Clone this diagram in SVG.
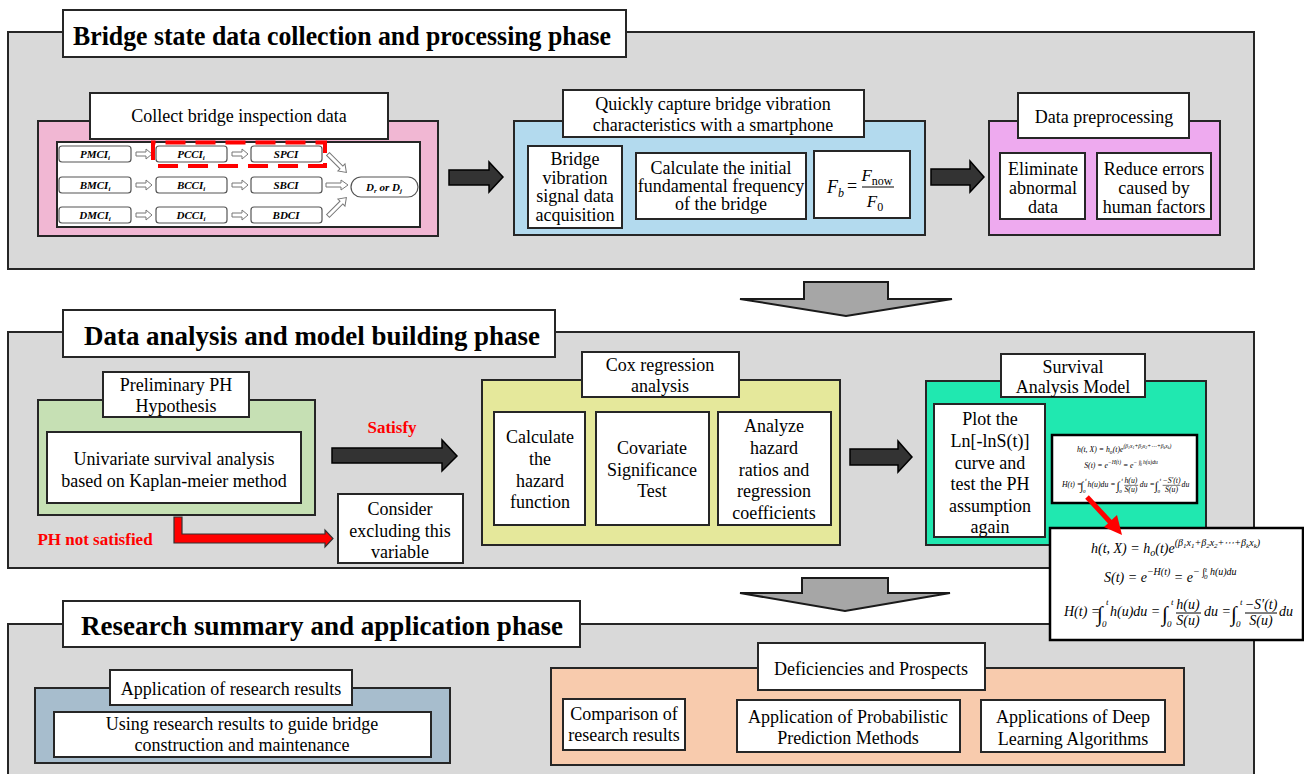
<svg xmlns="http://www.w3.org/2000/svg" xmlns:xlink="http://www.w3.org/1999/xlink" width="1304" height="774" viewBox="0 0 1304 774">
<style>
text{font-family:"Liberation Serif","Times New Roman",serif;fill:#000}
.t{font-size:18px;text-anchor:middle}
.h{font-size:27px;font-weight:bold;text-anchor:middle}
.red{font-size:17px;font-weight:bold;fill:#ff0000;text-anchor:middle}
.panel{fill:#d9d9d9;stroke:#262626;stroke-width:2}
.w{fill:#fff;stroke:#262626;stroke-width:2}
.wb{fill:#fff;stroke:#000;stroke-width:2.5}
.sb{fill:#fff;stroke:#555;stroke-width:1.2}
.ci{font-size:11px;font-weight:bold;font-style:italic;text-anchor:middle}
.ha{fill:#fff;stroke:#777;stroke-width:1}
.dark{fill:#333;stroke:#000;stroke-width:1.5}
.garrow{fill:#a6a6a6;stroke:#1a1a1a;stroke-width:2}
.f{font-size:14px;font-style:italic}
.ig{font-size:21px;font-style:italic}
.lim{font-size:9px;font-style:italic}
</style>
<defs>
<g id="formula">
<text class="f" x="1091" y="553">h(t, X) = h<tspan font-size="10" dy="3">o</tspan><tspan dy="-3">(t)e</tspan><tspan font-size="10" dy="-7">(β<tspan font-size="7" dy="2">1</tspan><tspan dy="-2">x</tspan><tspan font-size="7" dy="2">1</tspan><tspan dy="-2">+β</tspan><tspan font-size="7" dy="2">2</tspan><tspan dy="-2">x</tspan><tspan font-size="7" dy="2">2</tspan><tspan dy="-2">+⋯+β</tspan><tspan font-size="7" dy="2">k</tspan><tspan dy="-2">x</tspan><tspan font-size="7" dy="2">k</tspan><tspan dy="-2">)</tspan></tspan></text>
<text class="f" x="1104" y="582">S(t) = e<tspan font-size="10" dy="-7">−H(t)</tspan><tspan dy="7"> = e</tspan><tspan font-size="10" dy="-7">− ∫</tspan><tspan font-size="7" dy="-3">t</tspan><tspan font-size="7" dx="-3" dy="7">0</tspan><tspan font-size="10" dy="-4"> h(u)du</tspan></text>
<text class="f" x="1064" y="616">H(t) =</text>
<text class="ig" x="1097" y="621">∫</text>
<text class="lim" x="1106" y="605">t</text>
<text class="lim" x="1102" y="627">0</text>
<text class="f" x="1110" y="616">h(u)du =</text>
<text class="ig" x="1162" y="621">∫</text>
<text class="lim" x="1171" y="605">t</text>
<text class="lim" x="1167" y="627">0</text>
<text class="f" x="1188" y="609" text-anchor="middle">h(u)</text>
<line x1="1176" y1="613" x2="1201" y2="613" stroke="#000" stroke-width="1"/>
<text class="f" x="1188" y="625" text-anchor="middle">S(u)</text>
<text class="f" x="1204" y="616">du =</text>
<text class="ig" x="1231" y="621">∫</text>
<text class="lim" x="1240" y="605">t</text>
<text class="lim" x="1236" y="627">0</text>
<text class="f" x="1261" y="609" text-anchor="middle">−S′(t)</text>
<line x1="1245" y1="613" x2="1277" y2="613" stroke="#000" stroke-width="1"/>
<text class="f" x="1261" y="625" text-anchor="middle">S(u)</text>
<text class="f" x="1279" y="616">du</text>
</g>
</defs>

<!-- Phase 1 -->
<g id="phase1">
<rect class="panel" x="8" y="32" width="1246" height="237"/>
<rect class="w" x="63" y="10" width="563" height="47"/>
<text class="h" x="342" y="45" textLength="538" lengthAdjust="spacingAndGlyphs">Bridge state data collection and processing phase</text>
</g>
<g id="collect">
<rect x="38" y="121" width="400" height="115" fill="#f1b7d3" stroke="#262626" stroke-width="2"/>
<rect class="w" x="57" y="142" width="363" height="85" stroke-width="1.5"/>
<rect class="w" x="90" y="93" width="298" height="46"/>
<text class="t" x="239" y="122">Collect bridge inspection data</text>
<g id="inspection-grid">
<rect class="sb" x="59" y="146" width="72" height="16" rx="3"/>
<rect class="sb" x="156" y="146" width="71" height="16" rx="3"/>
<rect class="sb" x="251" y="146" width="71" height="16" rx="3"/>
<rect class="sb" x="59" y="177" width="72" height="16" rx="3"/>
<rect class="sb" x="156" y="177" width="71" height="16" rx="3"/>
<rect class="sb" x="251" y="177" width="71" height="16" rx="3"/>
<rect class="sb" x="59" y="207" width="72" height="16" rx="3"/>
<rect class="sb" x="156" y="207" width="71" height="16" rx="3"/>
<rect class="sb" x="251" y="207" width="71" height="16" rx="3"/>
<rect class="sb" x="351" y="177" width="67" height="20" rx="10"/>
<text class="ci" x="95" y="158">PMCI<tspan font-size="7" dy="2">i</tspan></text>
<text class="ci" x="191" y="158">PCCI<tspan font-size="7" dy="2">i</tspan></text>
<text class="ci" x="286" y="158">SPCI</text>
<text class="ci" x="95" y="189">BMCI<tspan font-size="7" dy="2">i</tspan></text>
<text class="ci" x="191" y="189">BCCI<tspan font-size="7" dy="2">i</tspan></text>
<text class="ci" x="286" y="189">SBCI</text>
<text class="ci" x="95" y="219">DMCI<tspan font-size="7" dy="2">i</tspan></text>
<text class="ci" x="191" y="219">DCCI<tspan font-size="7" dy="2">i</tspan></text>
<text class="ci" x="286" y="219">BDCI</text>
<text class="ci" x="384" y="191">D<tspan font-size="7" dy="2">r</tspan><tspan dy="-2"> or D</tspan><tspan font-size="7" dy="2">j</tspan></text>
<path class="ha" d="M136,152 H146 V149 L152,154 L146,159 V156 H136 Z"/>
<path class="ha" d="M232,152 H242 V149 L248,154 L242,159 V156 H232 Z"/>
<path class="ha" d="M136,183 H146 V180 L152,185 L146,190 V187 H136 Z"/>
<path class="ha" d="M232,183 H242 V180 L248,185 L242,190 V187 H232 Z"/>
<path class="ha" d="M136,213 H146 V210 L152,215 L146,220 V217 H136 Z"/>
<path class="ha" d="M232,213 H242 V210 L248,215 L242,220 V217 H232 Z"/>
<path class="ha" d="M326,183 H341 V180 L348,185 L341,190 V187 H326 Z"/>
<path class="ha" d="M0,-2 H19 V-5 L26,0 L19,5 V2 H0 Z" transform="translate(328,154) rotate(45)"/>
<path class="ha" d="M0,-2 H19 V-5 L26,0 L19,5 V2 H0 Z" transform="translate(328,216) rotate(-45)"/>
<path d="M153,160 V142.5 H325 V166 H157" fill="none" stroke="#ff0000" stroke-width="4" stroke-dasharray="20,10"/>
</g>
</g>
<g id="capture">
<rect x="514" y="121" width="411" height="114" fill="#b3daee" stroke="#262626" stroke-width="2"/>
<rect class="w" x="563" y="90" width="301" height="47"/>
<text class="t" x="713" y="110">Quickly capture bridge vibration</text>
<text class="t" x="713" y="131">characteristics with a smartphone</text>
<rect class="w" x="528" y="146" width="94" height="82"/>
<text class="t" x="575" y="165">Bridge</text>
<text class="t" x="575" y="184">vibration</text>
<text class="t" x="575" y="202">signal data</text>
<text class="t" x="575" y="221">acquisition</text>
<rect class="w" x="636" y="153" width="170" height="66"/>
<text class="t" x="721" y="174">Calculate the initial</text>
<text class="t" x="721" y="192">fundamental frequency</text>
<text class="t" x="721" y="210">of the bridge</text>
<rect class="w" x="814" y="151" width="96" height="67"/>
<text x="827" y="193" font-size="18" font-style="italic">F<tspan font-size="12" dy="4">b</tspan></text>
<text x="847" y="192" font-size="18">=</text>
<text x="877" y="181" font-size="17" text-anchor="middle"><tspan font-style="italic">F</tspan><tspan font-size="12" dy="4">now</tspan></text>
<line x1="862" y1="187" x2="894" y2="187" stroke="#000" stroke-width="1"/>
<text x="875" y="207" font-size="17" text-anchor="middle"><tspan font-style="italic">F</tspan><tspan font-size="12" dy="4">0</tspan></text>
</g>
<g id="preprocess">
<rect x="989" y="121" width="231" height="114" fill="#eeaaef" stroke="#262626" stroke-width="2"/>
<rect class="w" x="1018" y="93" width="171" height="45"/>
<text class="t" x="1104" y="123">Data preprocessing</text>
<rect class="w" x="1000" y="153" width="85" height="66"/>
<text class="t" x="1043" y="175">Eliminate</text>
<text class="t" x="1043" y="194">abnormal</text>
<text class="t" x="1043" y="213">data</text>
<rect class="w" x="1097" y="153" width="114" height="66"/>
<text class="t" x="1154" y="175">Reduce errors</text>
<text class="t" x="1154" y="194">caused by</text>
<text class="t" x="1154" y="213">human factors</text>
</g>

<!-- Phase 2 -->
<g id="phase2">
<rect class="panel" x="8" y="332" width="1246" height="236"/>
<rect class="w" x="63" y="310" width="492" height="47"/>
<text class="h" x="312" y="345" textLength="456" lengthAdjust="spacingAndGlyphs">Data analysis and model building phase</text>
</g>
<g id="ph-hypothesis">
<rect x="38" y="400" width="277" height="115" fill="#c6e0b4" stroke="#262626" stroke-width="2"/>
<rect class="w" x="103" y="372" width="146" height="45"/>
<text class="t" x="176" y="391">Preliminary PH</text>
<text class="t" x="176" y="412">Hypothesis</text>
<rect class="w" x="47" y="432" width="254" height="71"/>
<text class="t" x="174" y="465">Univariate survival analysis</text>
<text class="t" x="174" y="487">based on Kaplan-meier method</text>
</g>
<g id="exclude">
<rect class="w" x="338" y="494" width="125" height="69"/>
<text class="t" x="400" y="515">Consider</text>
<text class="t" x="400" y="537">excluding this</text>
<text class="t" x="400" y="558">variable</text>
</g>
<g id="cox">
<rect x="482" y="380" width="358" height="165" fill="#e5e89b" stroke="#262626" stroke-width="2"/>
<rect class="w" x="582" y="352" width="157" height="45"/>
<text class="t" x="660" y="371">Cox regression</text>
<text class="t" x="660" y="392">analysis</text>
<rect class="w" x="494" y="412" width="91" height="113"/>
<text class="t" x="540" y="443">Calculate</text>
<text class="t" x="540" y="465">the</text>
<text class="t" x="540" y="487">hazard</text>
<text class="t" x="540" y="508">function</text>
<rect class="w" x="596" y="412" width="113" height="113"/>
<text class="t" x="652" y="454">Covariate</text>
<text class="t" x="652" y="476">Significance</text>
<text class="t" x="652" y="497">Test</text>
<rect class="w" x="718" y="412" width="113" height="113"/>
<text class="t" x="774" y="432">Analyze</text>
<text class="t" x="774" y="454">hazard</text>
<text class="t" x="774" y="476">ratios and</text>
<text class="t" x="774" y="497">regression</text>
<text class="t" x="774" y="519">coefficients</text>
</g>
<g id="survival">
<rect x="926" y="381" width="280" height="164" fill="#20e8b0" stroke="#262626" stroke-width="2"/>
<rect class="w" x="1001" y="354" width="144" height="43"/>
<text class="t" x="1073" y="373">Survival</text>
<text class="t" x="1073" y="393">Analysis Model</text>
<rect class="w" x="934" y="404" width="111" height="133"/>
<text class="t" x="990" y="425">Plot the</text>
<text class="t" x="990" y="447">Ln[-lnS(t)]</text>
<text class="t" x="990" y="469">curve and</text>
<text class="t" x="990" y="490">test the PH</text>
<text class="t" x="990" y="512">assumption</text>
<text class="t" x="990" y="533">again</text>
<rect class="wb" x="1052" y="435" width="145" height="68"/>
<use xlink:href="#formula" transform="translate(470.4,144.5) scale(0.556)"/>
</g>

<!-- Phase 3 -->
<g id="phase3">
<rect class="panel" x="8" y="624" width="1246" height="160"/>
<rect class="w" x="63" y="601" width="517" height="46"/>
<text class="h" x="322" y="635" textLength="482" lengthAdjust="spacingAndGlyphs">Research summary and application phase</text>
</g>
<g id="application">
<rect x="35" y="688" width="415" height="75" fill="#a7bdcd" stroke="#262626" stroke-width="2"/>
<rect class="w" x="110" y="670" width="242" height="35"/>
<text class="t" x="231" y="695">Application of research results</text>
<rect class="w" x="54" y="712" width="377" height="45"/>
<text class="t" x="242" y="730">Using research results to guide bridge</text>
<text class="t" x="242" y="751">construction and maintenance</text>
</g>
<g id="prospects">
<rect x="551" y="668" width="633" height="97" fill="#f8cbad" stroke="#262626" stroke-width="2"/>
<rect class="w" x="758" y="643" width="227" height="47"/>
<text class="t" x="871" y="675">Deficiencies and Prospects</text>
<rect class="w" x="563" y="699" width="122" height="51"/>
<text class="t" x="624" y="720">Comparison of</text>
<text class="t" x="624" y="741">research results</text>
<rect class="w" x="737" y="700" width="223" height="52"/>
<text class="t" x="848" y="723">Application of Probabilistic</text>
<text class="t" x="848" y="744">Prediction Methods</text>
<rect class="w" x="981" y="700" width="184" height="52"/>
<text class="t" x="1073" y="723">Applications of Deep</text>
<text class="t" x="1073" y="745">Learning Algorithms</text>
</g>

<g id="formula-zoom">
<rect class="wb" x="1050" y="528" width="253" height="112"/>
<use xlink:href="#formula"/>
</g>

<!-- Connectors -->
<g id="connectors">
<path class="dark" d="M449,170 H489 V162 L503,177 L489,192 V185 H449 Z"/>
<path class="dark" d="M931,169 H970 V161 L984,177 L970,192 V185 H931 Z"/>
<path class="dark" d="M332,448 H442 V440 L457,456 L442,471 V463 H332 Z"/>
<path class="dark" d="M850,449 H898 V441 L912,457 L898,472 V465 H850 Z"/>
<text class="red" x="392" y="433">Satisfy</text>
<path d="M174,517 H182 V534 H325 V530 L333,538.5 L325,547 V543 H174 Z" fill="#ff0000" stroke="#333" stroke-width="1.2"/>
<text class="red" x="95" y="545">PH not satisfied</text>
<line x1="1087" y1="497" x2="1112" y2="524" stroke="#ff0000" stroke-width="5"/>
<path d="M1122,535 L1104,527 L1117,515 Z" fill="#ff0000"/>
<path class="garrow" d="M740,299 H804 V282 H888 V299 H952 L846,316 Z"/>
<path class="garrow" d="M740,593 H802 V578 H888 V593 H950 L845,611 Z"/>
</g>
</svg>
